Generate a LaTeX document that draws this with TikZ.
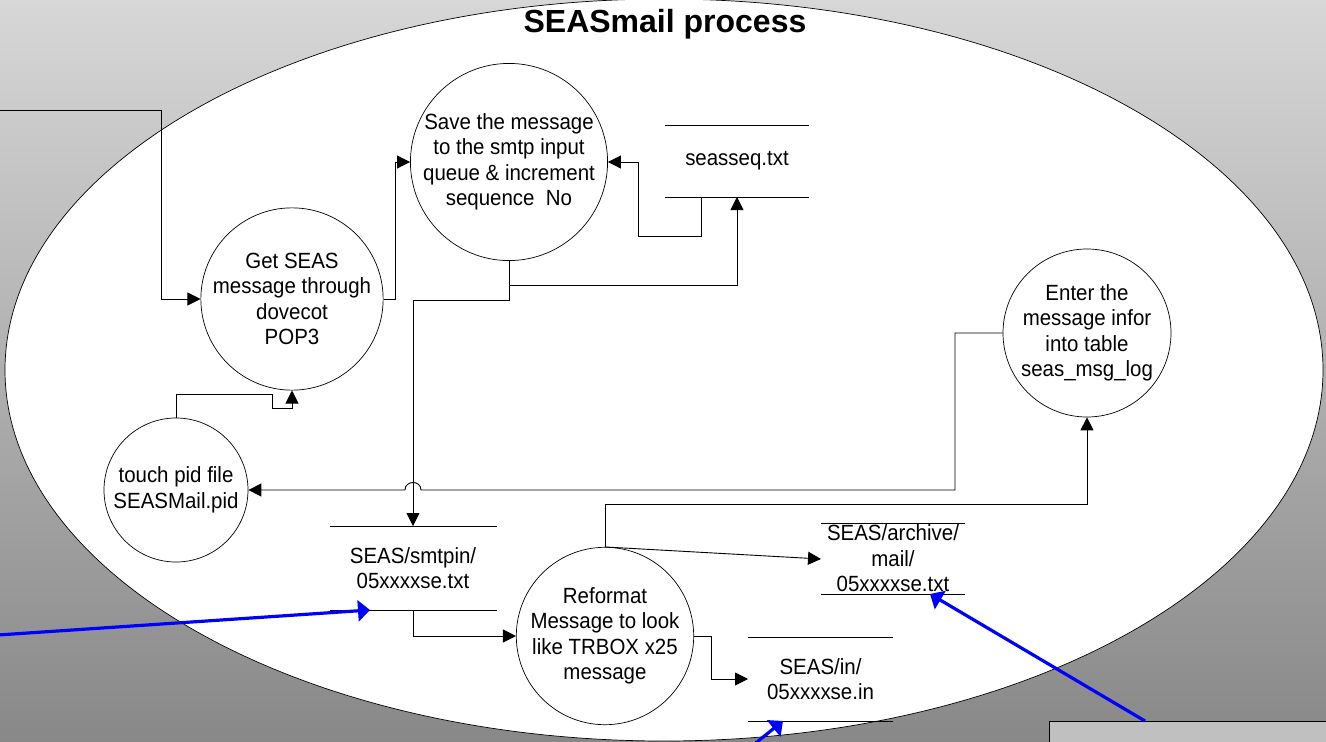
\documentclass[tikz,border=0pt]{standalone}
\usepackage{fontspec}
\setmainfont{Liberation Sans}
\newfontfamily\bodyfont[FakeStretch=0.93]{Liberation Sans}
\usetikzlibrary{arrows.meta}
\definecolor{bgtop}{RGB}{215,215,215}
\definecolor{bgbot}{RGB}{136,136,136}
\definecolor{boxgray}{RGB}{192,192,192}
\definecolor{pureblue}{RGB}{0,0,255}
\tikzset{
  proc/.style={circle, draw, fill=white, inner sep=0pt, align=center, line width=0.7pt,
    font=\bodyfont\fontsize{22}{25.5}\selectfont},
  store/.style n args={2}{inner sep=0pt, align=center, font=\bodyfont\fontsize{22}{25.5}\selectfont,
    append after command={([xshift=-#1/2,yshift=#2/2]\tikzlastnode.center) edge[line width=0.9pt] ([xshift=#1/2,yshift=#2/2]\tikzlastnode.center)
      ([xshift=-#1/2,yshift=-#2/2]\tikzlastnode.center) edge[line width=0.9pt] ([xshift=#1/2,yshift=-#2/2]\tikzlastnode.center)}},
  flow/.style={line width=0.9pt, -{Triangle[length=13pt,width=13pt]}},
  blueflow/.style={line width=3.2pt, draw=pureblue, -{Triangle[length=12pt,width=21pt]}},
}
\begin{document}
\begin{tikzpicture}[x=1pt,y=-1pt]
\useasboundingbox (0,0) rectangle (1326,742);
\shade[top color=bgtop, bottom color=bgbot] (0,0) rectangle (1326,742);
\draw[fill=white, line width=0.7pt] (664,370) ellipse [x radius=659pt, y radius=371pt];
\node[font=\bfseries\fontsize{32}{36}\selectfont, anchor=base, inner sep=0pt] (title) at (665,32) {SEASmail process};

% processes
\node[proc, minimum size=168pt] (get) at (292,299) {Get SEAS\\message through\\dovecot\\POP3};
\node[proc, minimum size=180pt] (save) at (509,162) {Save the message\\to the smtp input\\queue \& increment\\sequence\ \ No};
\node[proc, minimum size=168pt] (enter) at (1087,333) {Enter the\\message infor\\into table\\seas\_msg\_log};
\node[proc, minimum size=144pt] (touch) at (176,490) {touch pid file\\SEASMail.pid};
\node[proc, minimum size=168pt] (ref) at (605,636) {Reformat\\Message to look\\like TRBOX x25\\message};

% data stores
\node[store={144pt}{72pt}] (seq) at (737,161) {seasseq.txt};
\node[store={167pt}{84pt}] (smtp) at (413,568) {SEAS/smtpin/\\05xxxxse.txt};
\node[store={144pt}{71pt}] (arch) at (893,558.5) {SEAS/archive/\\mail/\\05xxxxse.txt};
\node[store={145pt}{84pt}] (in) at (820.5,679) {SEAS/in/\\05xxxxse.in};

% external box
\node[draw, fill=boxgray, line width=0.8pt, anchor=north west, minimum width=300pt, minimum height=60pt] (ext) at (1049,721) {};

% coordinates of free ends
\coordinate (src) at (0,110);
\coordinate (bsrc1) at (-2,635);
\coordinate (bsrc3) at (752,746);
\coordinate (seqbot) at (737,197);
\coordinate (seqtap) at (701,197);
\coordinate (smtptop) at (413,526);
\coordinate (smtpbot) at (413,610);
\coordinate (intip) at (748,679);
\coordinate (archtip) at (821,559);

% connectors
\draw[flow] (src) -- (161,110) |- (get.west);
\draw[flow] (get.east) -- (395,299) |- (save.west);
\draw[flow] (seqtap) |- (638,236) |- (save.east);
\draw[flow] (save.south) -- (509,285) -| (seqbot);
\draw[flow] (save.south) -- (509,300) -| (smtptop);
\draw[flow] (enter.west) -| (955,490) -- (421,490) .. controls (421,480) and (405,480) .. (405,490) -- (touch.east);
\draw[flow] (touch.north) |- (272,394) -- (272,408) -| (get.south);
\draw[flow] (smtpbot) |- (ref.west);
\draw[flow] (ref.east) -- (711,636) |- (intip);
\draw[flow] (ref.north) -- (605,504) -| (enter.south);
\draw[flow] (ref.north) -- (archtip);

% blue arrows
\draw[blueflow] (bsrc1) -- (370,610);
\draw[blueflow] ([xshift=96pt]ext.north west) -- (930,594);
\draw[blueflow] (bsrc3) -- (783,721);
\end{tikzpicture}
\end{document}
